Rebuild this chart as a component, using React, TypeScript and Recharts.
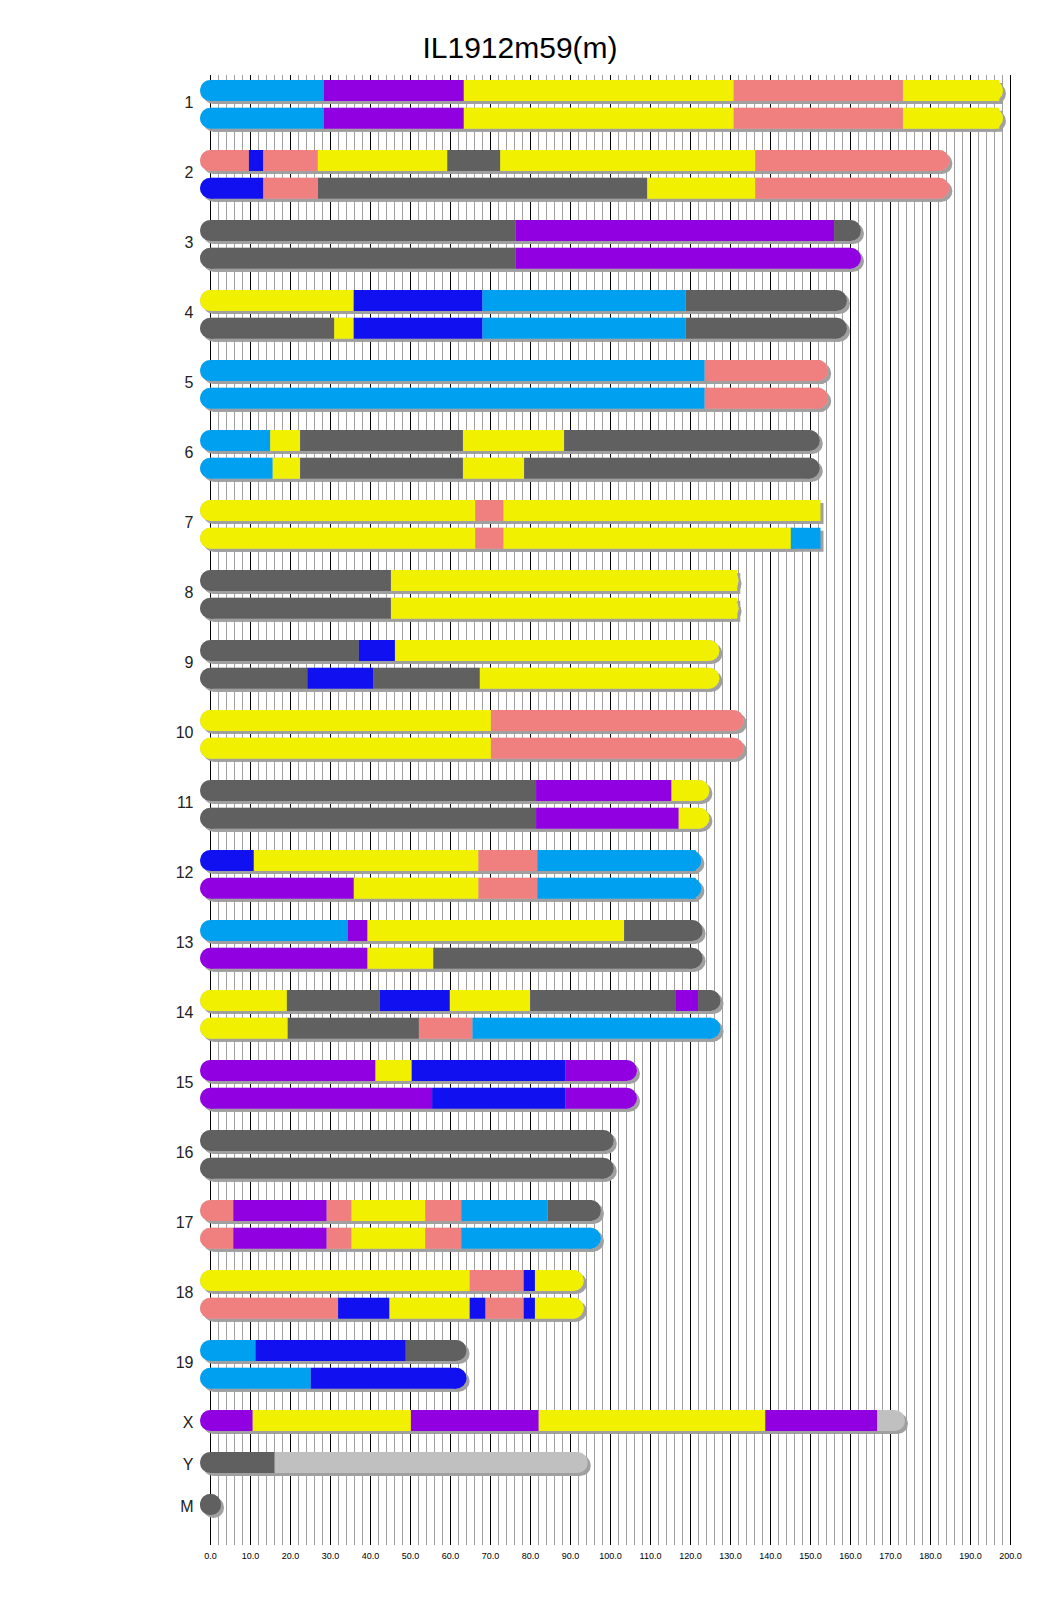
import React from "react";
import { ComposedChart, Line, Scatter, XAxis, YAxis, ReferenceLine } from "recharts";

// founder codes: A=A/J, B=C57BL/6J, C=129S1, D=NOD, E=NZO, H=WSB
const chromosomes = ["1", "2", "3", "4", "5", "6", "7", "8", "9", "10", "11", "12", "13", "14", "15", "16", "17", "18", "19", "X", "Y", "M"];
const chromLengths = [195.5, 182.1, 160.0, 156.5, 151.8, 149.7, 145.4, 129.4, 124.6, 130.7, 122.1, 120.1, 120.4, 124.9, 104.0, 98.2, 95.0, 90.7, 61.4, 171.0, 91.7, 0.016];

const hap1Founders = ["EHACA", "CDCABAC", "BHB", "ADEB", "EC", "EABAB", "ACA", "BA", "BDA", "AC", "BHA", "DACE", "EHAB", "ABDABHB", "HADH", "B", "CHCACEB", "ACDA", "EDB", "HAHAH", "B", "B"];
const hap1Breaks = [
  [0, 28.3, 63.3, 130.8, 173.1, 197.2],
  [0, 9.6, 13.15, 26.8, 59.2, 72.4, 136.2, 182.1],
  [0, 76.3, 155.9, 160.0],
  [0, 35.8, 68.0, 118.8, 156.5],
  [0, 123.5, 152.5],
  [0, 14.9, 22.4, 63.1, 88.4, 149.7],
  [0, 66.2, 73.2, 152.5],
  [0, 45.1, 131.7],
  [0, 37.1, 46.1, 124.6],
  [0, 70.1, 130.7],
  [0, 81.4, 115.2, 122.1],
  [0, 10.8, 67.0, 81.7, 121.3],
  [0, 34.3, 39.2, 103.4, 120.4],
  [0, 19.1, 42.3, 59.8, 79.9, 116.2, 121.9, 125.2],
  [0, 41.2, 50.3, 88.7, 104.0],
  [0, 98.3],
  [0, 5.7, 29.0, 35.2, 53.7, 62.7, 84.3, 95.3],
  [0, 64.8, 78.3, 81.1, 90.8],
  [0, 11.2, 48.8, 61.4],
  [0, 10.5, 50.1, 82.0, 138.7, 166.65],
  [0, 16.0],
  [0, 0.016],
];

const hap2Founders = ["EHACA", "DCBAC", "BH", "BADEB", "EC", "EABAB", "ACAE", "BA", "BDBA", "AC", "BHA", "HACE", "HAB", "ABCE", "HDH", "B", "CHCACE", "CDADCDA", "ED"];
const hap2Breaks = [
  [0, 28.3, 63.3, 130.8, 173.1, 197.2],
  [0, 13.15, 26.8, 109.15, 136.2, 182.1],
  [0, 76.3, 160.0],
  [0, 30.9, 35.8, 68.0, 118.8, 156.5],
  [0, 123.5, 152.5],
  [0, 15.5, 22.4, 63.1, 78.4, 149.7],
  [0, 66.2, 73.2, 145.1, 152.5],
  [0, 45.1, 131.7],
  [0, 24.2, 40.7, 67.3, 124.6],
  [0, 70.1, 130.7],
  [0, 81.4, 117.0, 122.1],
  [0, 35.8, 67.0, 81.7, 121.3],
  [0, 39.2, 55.7, 120.4],
  [0, 19.3, 52.1, 65.5, 125.2],
  [0, 55.4, 88.7, 104.0],
  [0, 98.3],
  [0, 5.7, 29.0, 35.2, 53.7, 62.7, 95.3],
  [0, 31.9, 44.7, 64.8, 68.7, 78.3, 81.1, 90.8],
  [0, 25.0, 61.4],
];

const axisTicks = [0, 10, 20, 30, 40, 50, 60, 70, 80, 90, 100, 110, 120, 130, 140, 150, 160, 170, 180, 190, 200];

const founderColors: Record<string, string> = {
  A: "#F0F000",
  B: "#606060",
  C: "#F08080",
  D: "#1010F0",
  E: "#00A0F0",
  H: "#9000E0",
};
const UNKNOWN = "#C0C0C0";
const SHADOW = "#A0A0A0";

// layout (y axis runs in pixels from the top of the plot)
const PLOT_H = 1470;
const BAR_W = 21;
const ROW_FIRST = 15.5;
const PAIR_STEP = 70;
const HAP_OFFSET = 27.7;
const SINGLE_STEP = 42;

type Pt = { x: number; y: number | null };
type Row = { chrom: number; y: number; founders: string; breaks: number[] };

const rows: Row[] = [];
const labelTicks: number[] = [];
const labelNames = new Map<number, string>();

chromosomes.forEach((name, i) => {
  let t: number;
  if (i < hap2Founders.length) {
    const y1 = ROW_FIRST + i * PAIR_STEP;
    const y2 = y1 + HAP_OFFSET;
    rows.push({ chrom: i, y: y1, founders: hap1Founders[i], breaks: hap1Breaks[i] });
    rows.push({ chrom: i, y: y2, founders: hap2Founders[i], breaks: hap2Breaks[i] });
    t = (y1 + y2) / 2 - 1.9;
  } else {
    const y = ROW_FIRST + hap2Founders.length * PAIR_STEP + (i - hap2Founders.length) * SINGLE_STEP;
    rows.push({ chrom: i, y, founders: hap1Founders[i], breaks: hap1Breaks[i] });
    t = y + 1.5;
  }
  labelTicks.push(t);
  labelNames.set(t, name);
});

const basePts: Pt[] = [];
const segPts: Pt[] = [];
const segByFounder: Record<string, Pt[]> = {};
const caps: { x: number; y: number; color: string }[] = [];

rows.forEach((r) => {
  const len = chromLengths[r.chrom];
  basePts.push({ x: 0, y: r.y }, { x: len, y: r.y }, { x: len, y: null });
  const segs = r.founders.split("").map((f, k) => ({ f, s: r.breaks[k], e: r.breaks[k + 1] }));
  segs.forEach((sg) => {
    const pts: Pt[] = [{ x: sg.s, y: r.y }, { x: sg.e, y: r.y }, { x: sg.e, y: null }];
    (segByFounder[sg.f] ||= []).push(...pts);
    segPts.push(...pts);
  });
  // round ends take the colour of the segment that reaches them
  [0, len].forEach((pos) => {
    const sg = segs.find((s) => s.s <= pos && pos <= s.e);
    if (sg) caps.push({ x: pos, y: r.y, color: founderColors[sg.f] });
  });
});

const gridValues: number[] = [];
for (let v = 0; v <= 200; v += 2) gridValues.push(v);

const CapDot = (props: any) => {
  const { cx, cy, payload } = props;
  return <circle cx={cx} cy={cy} r={BAR_W / 2} fill={payload.color} />;
};

const LabelTick = (props: any) => {
  const { x, y, payload } = props;
  return (
    <text x={x} y={y} dy={5.5} textAnchor="end" fontSize={16} fill="#222">
      {labelNames.get(payload.value) ?? ""}
    </text>
  );
};

export default function App() {
  return (
    <div style={{ width: 1024, height: 1600, fontFamily: "'Liberation Sans', Arial, sans-serif" }}>
      <style>{".bar-shadow { transform: translate(3px, 3px); }"}</style>
      <ComposedChart width={1024} height={1600} margin={{ top: 67, right: 21.5, bottom: 33, left: 0 }}>
        <text x={512} y={50} textAnchor="middle" fontSize={30} fill="#000">
          IL1912m59(m)
        </text>
        <XAxis
          type="number"
          dataKey="x"
          domain={[0, 200]}
          ticks={axisTicks}
          interval={0}
          tickFormatter={(v: number) => v.toFixed(1)}
          axisLine={false}
          tickLine={false}
          tick={{ fontSize: 9, fill: "#000" }}
          height={30}
        />
        <YAxis
          type="number"
          dataKey="y"
          domain={[0, PLOT_H]}
          reversed
          ticks={labelTicks}
          interval={0}
          axisLine={false}
          tickLine={false}
          tickSize={0}
          tickMargin={17}
          width={202.5}
          tick={<LabelTick />}
        />
        {gridValues.map((v) => (
          <ReferenceLine
            key={v}
            x={v}
            stroke={v % 10 === 0 ? "#000" : SHADOW}
            strokeWidth={1}
            zIndex={-100}
          />
        ))}
        <Line
          data={basePts}
          dataKey="y"
          className="bar-shadow"
          stroke={SHADOW}
          strokeWidth={BAR_W}
          strokeLinecap="round"
          dot={false}
          activeDot={false}
          connectNulls={false}
          isAnimationActive={false}
          zIndex={100}
        />
        <Line
          data={segPts}
          dataKey="y"
          className="bar-shadow"
          stroke={SHADOW}
          strokeWidth={BAR_W}
          strokeLinecap="butt"
          dot={false}
          activeDot={false}
          connectNulls={false}
          isAnimationActive={false}
          zIndex={101}
        />
        <Line
          data={basePts}
          dataKey="y"
          stroke={UNKNOWN}
          strokeWidth={BAR_W}
          strokeLinecap="round"
          dot={false}
          activeDot={false}
          connectNulls={false}
          isAnimationActive={false}
          zIndex={102}
        />
        <Scatter data={caps} dataKey="y" shape={<CapDot />} isAnimationActive={false} zIndex={103} />
        {Object.keys(founderColors).map((f, k) => (
          <Line
            key={f}
            data={segByFounder[f] || []}
            dataKey="y"
            stroke={founderColors[f]}
            strokeWidth={BAR_W}
            strokeLinecap="butt"
            dot={false}
            activeDot={false}
            connectNulls={false}
            isAnimationActive={false}
            zIndex={104 + k}
          />
        ))}
      </ComposedChart>
    </div>
  );
}
